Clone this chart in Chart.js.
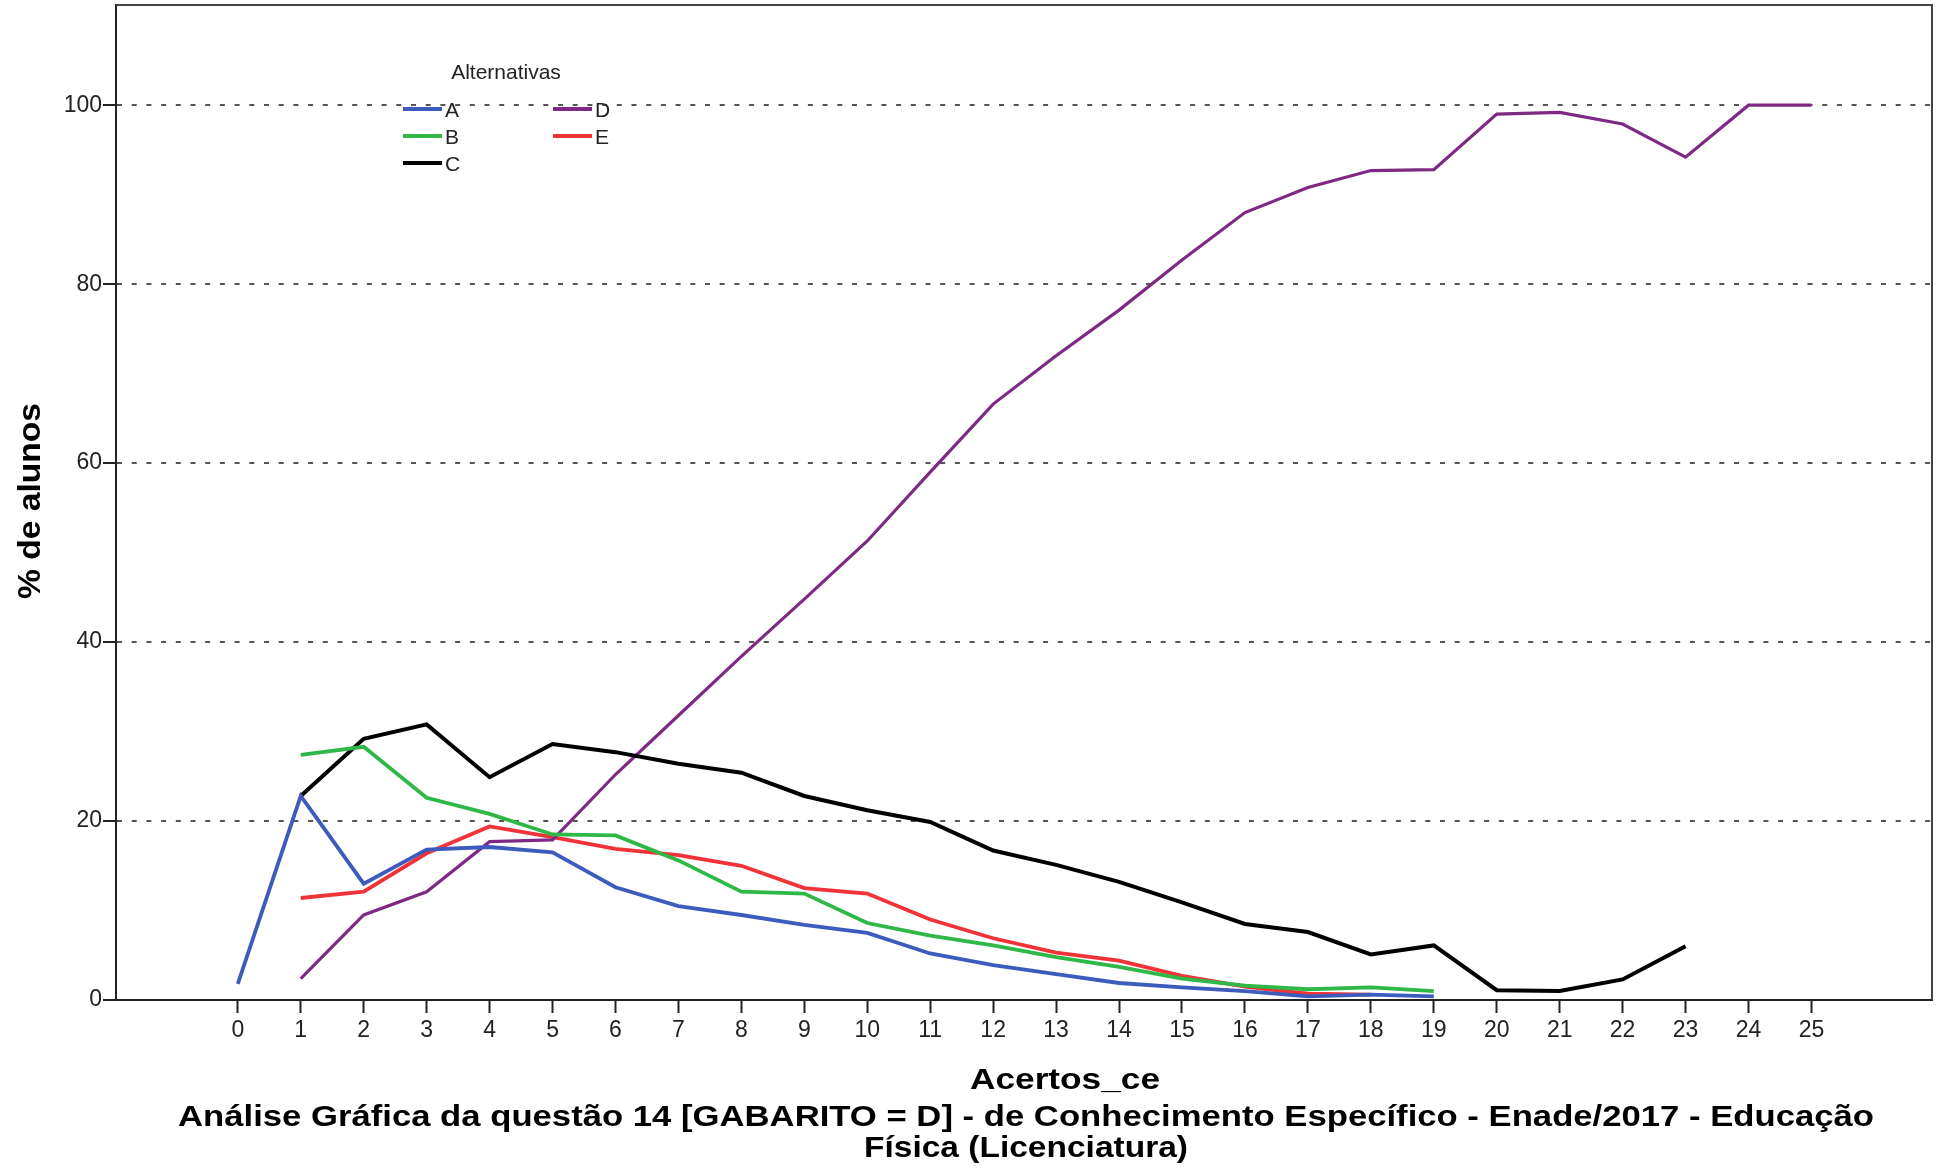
<!DOCTYPE html>
<html lang="pt-BR">
<head>
<meta charset="utf-8">
<title>Análise Gráfica da questão 14</title>
<script src="https://cdn.jsdelivr.net/npm/chart.js@4.4.1/dist/chart.umd.min.js"></script>
<style>
  html, body { margin: 0; padding: 0; background: #fff; }
  #wrap { width: 1941px; height: 1171px; }
</style>
</head>
<body>
<div id="wrap"><canvas id="grafico" width="1941" height="1171"></canvas></div>
<script>
// acertos_ce (0..25) e % de alunos por alternativa
const acertos = [0, 1, 2, 3, 4, 5, 6, 7, 8, 9, 10, 11, 12, 13, 14, 15, 16, 17, 18, 19, 20, 21, 22, 23, 24, 25];
const yTicks = [0, 20, 40, 60, 80, 100];

const altA = [1.8, 22.8, 13.0, 16.8, 17.1, 16.5, 12.6, 10.5, 9.5, 8.4, 7.5, 5.2, 3.9, 2.9, 1.9, 1.4, 1.0, 0.4, 0.6, 0.4,
  null, null, null, null, null, null];
const altB = [null, 27.4, 28.3, 22.6, 20.8, 18.5, 18.4, 15.6, 12.1, 11.9, 8.6, 7.2, 6.1, 4.8, 3.7, 2.4, 1.6, 1.2, 1.4, 1.0,
  null, null, null, null, null, null];
const altC = [null, 22.8, 29.2, 30.8, 24.9, 28.6, 27.7, 26.4, 25.4, 22.8, 21.2, 19.9, 16.7, 15.1, 13.2, 10.9, 8.5, 7.6, 5.1, 6.1,
  1.1, 1.0, 2.3, 6.0, null, null];
const altD = [null, 2.4, 9.5, 12.1, 17.7, 17.9, 25.2, 31.8, 38.4, 44.8, 51.3, 59.0, 66.6, 72.0, 77.1, 82.7, 88.0, 90.8, 92.7, 92.8,
  99.0, 99.2, 97.9, 94.2, 100, 100];
const altE = [null, 11.4, 12.1, 16.4, 19.4, 18.2, 16.9, 16.2, 15.0, 12.5, 11.9, 9.0, 6.9, 5.3, 4.4, 2.7, 1.5, 0.7, 0.6, null,
  null, null, null, null, null, null];

const FONT = "'Liberation Sans', Arial, sans-serif";

function pontos(serie) {
    return acertos
        .map((x, i) => ({ x, y: serie[i] }))
        .filter(p => p.y !== null);
}

function serie(label, valores, cor, largura) {
    return {
        label,
        data: pontos(valores),
        borderColor: cor,
        backgroundColor: cor,
        borderWidth: largura,
        pointRadius: 0,
        tension: 0,
        fill: false
    };
}

// texto com largura fixa (fonte do SPSS é mais larga/estreita que a Liberation)
function textoAjustado(ctx, texto, x, y, largura, fonte) {
    ctx.save();
    ctx.font = fonte;
    const w = ctx.measureText(texto).width;
    ctx.translate(x, y);
    ctx.scale(largura / w, 1);
    ctx.textAlign = 'center';
    ctx.fillText(texto, 0, 0);
    ctx.restore();
}

const moldura = {
    id: 'moldura',
    afterDatasetsDraw(chart) {
        const { ctx, chartArea: a } = chart;
        ctx.save();
        ctx.strokeStyle = '#444';
        ctx.lineWidth = 2;
        ctx.beginPath();
        ctx.moveTo(a.left, a.top);
        ctx.lineTo(a.right, a.top);
        ctx.lineTo(a.right, a.bottom);
        ctx.stroke();
        ctx.restore();
    }
};

const textos = {
    id: 'textos',
    afterDraw(chart) {
        const ctx = chart.ctx;
        ctx.save();
        ctx.fillStyle = '#000';

        // título do eixo Y
        ctx.save();
        ctx.translate(31, 501);
        ctx.rotate(-Math.PI / 2);
        ctx.textBaseline = 'middle';
        textoAjustado(ctx, '% de alunos', 0, 0, 196, 'bold 31px ' + FONT);
        ctx.restore();

        ctx.textBaseline = 'alphabetic';
        textoAjustado(ctx, 'Acertos_ce', 1065, 1089, 190, 'bold 29px ' + FONT);
        textoAjustado(ctx, 'Análise Gráfica da questão 14 [GABARITO = D] - de Conhecimento Específico - Enade/2017 - Educação',
            1026, 1126, 1696, 'bold 29px ' + FONT);
        textoAjustado(ctx, 'Física (Licenciatura)', 1026, 1157, 324, 'bold 29px ' + FONT);

        // legenda
        ctx.font = '21px ' + FONT;
        ctx.fillStyle = '#222';
        ctx.textAlign = 'center';
        ctx.textBaseline = 'middle';
        ctx.fillText('Alternativas', 506, 73);

        const colunas = [403, 553];
        const linhas = [109, 136, 163];
        ctx.textAlign = 'left';
        chart.data.datasets.forEach((ds, i) => {
            const x = colunas[Math.floor(i / 3)];
            const y = linhas[i % 3];
            ctx.strokeStyle = ds.borderColor;
            ctx.lineWidth = 4;
            ctx.beginPath();
            ctx.moveTo(x, y);
            ctx.lineTo(x + 39, y);
            ctx.stroke();
            ctx.fillStyle = '#222';
            ctx.fillText(ds.label, x + 42, y + 2);
        });
        ctx.restore();
    }
};

const ctx = document.getElementById('grafico').getContext('2d');
new Chart(ctx, {
    type: 'line',
    data: {
        datasets: [
            serie('A', altA, '#3d5bbd', 3.8),
            serie('B', altB, '#2fb847', 3.8),
            serie('C', altC, '#000000', 4),
            serie('D', altD, '#7e2a84', 3.2),
            serie('E', altE, '#ef3339', 3.8)
        ]
    },
    options: {
        responsive: false,
        animation: false,
        layout: { padding: { top: 5, right: 9, left: 0, bottom: 0 } },
        plugins: {
            legend: { display: false },
            tooltip: { enabled: false },
            title: { display: false }
        },
        scales: {
            x: {
                type: 'linear',
                min: -1.935,
                max: 26.915,
                afterBuildTicks: scale => { scale.ticks = acertos.map(v => ({ value: v })); },
                afterFit: scale => {
                    scale.height = 171;
                    scale.paddingLeft = 0;
                    scale.paddingRight = 0;
                },
                grid: {
                    drawOnChartArea: false,
                    tickLength: 13,
                    tickColor: '#222',
                    tickWidth: 2
                },
                border: { color: '#222', width: 2 },
                ticks: {
                    autoSkip: false,
                    maxRotation: 0,
                    padding: 4,
                    color: '#222',
                    font: { family: FONT, size: 23 }
                }
            },
            y: {
                min: 0,
                max: 111.2,
                afterBuildTicks: scale => { scale.ticks = yTicks.map(v => ({ value: v })); },
                afterFit: scale => {
                    scale.width = 116;
                    scale.paddingTop = 0;
                    scale.paddingBottom = 0;
                },
                grid: {
                    color: c => (c.tick && c.tick.value === 0) ? 'rgba(0,0,0,0)' : '#555',
                    lineWidth: 2,
                    tickLength: 13,
                    tickColor: '#222',
                    tickWidth: 2
                },
                border: { color: '#222', width: 2, dash: [5, 9.7] },
                ticks: {
                    padding: 1,
                    color: '#222',
                    font: { family: FONT, size: 23 }
                }
            }
        }
    },
    plugins: [moldura, textos]
});
</script>
</body>
</html>
